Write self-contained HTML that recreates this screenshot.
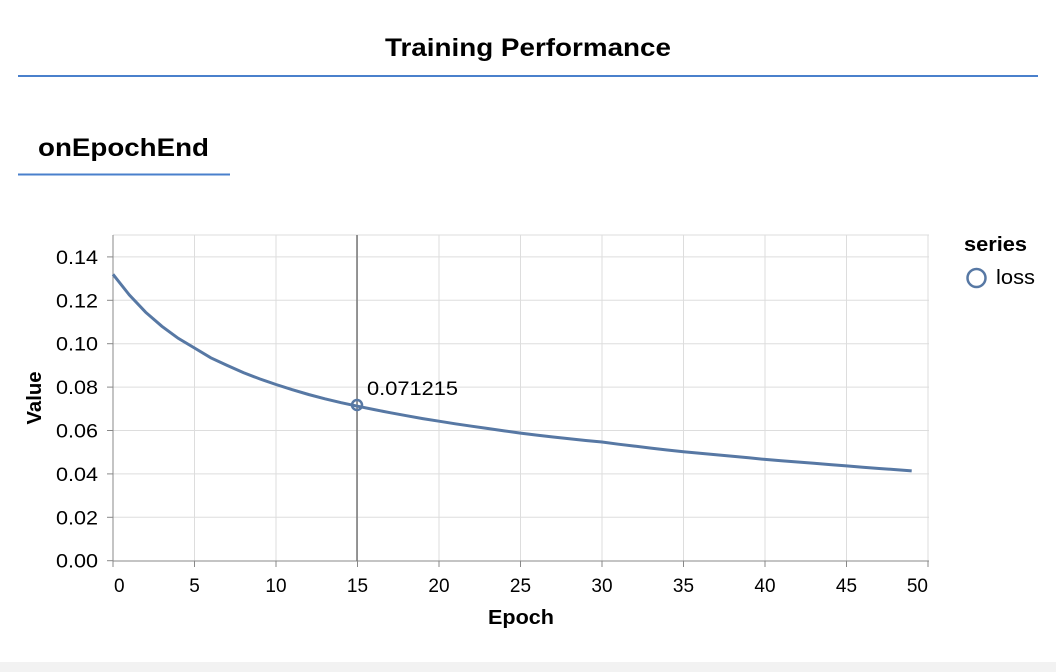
<!DOCTYPE html>
<html><head><meta charset="utf-8"><style>
html,body{margin:0;padding:0;background:#fff;width:1056px;height:672px;overflow:hidden}
svg{display:block;font-family:"Liberation Sans",Arial,sans-serif}
</style></head><body>
<svg id="s" width="1056" height="672" viewBox="0 0 1056 672" xmlns="http://www.w3.org/2000/svg">
<rect x="0" y="662" width="1056" height="10" fill="#f2f2f2"/>
<text x="385" y="56" font-size="25" font-weight="bold" fill="#000" textLength="286" lengthAdjust="spacingAndGlyphs">Training Performance</text>
<rect x="18" y="75" width="1020" height="2" fill="#4a80cc"/>
<text x="38" y="156" font-size="25" font-weight="bold" fill="#000" textLength="171" lengthAdjust="spacingAndGlyphs">onEpochEnd</text>
<rect x="18" y="173.5" width="212" height="2" fill="#4a80cc"/>
<g id="grid" stroke="#ddd" stroke-width="1"></g>
<line x1="113" y1="235" x2="113" y2="561" stroke="#888"/>
<line x1="113" y1="561" x2="929" y2="561" stroke="#888"/>
<g id="ticks" stroke="#888"></g>
<g id="labels" font-size="19" fill="#000"></g>
<text transform="translate(41,398) rotate(-90)" text-anchor="middle" font-size="20" font-weight="bold" textLength="53" lengthAdjust="spacingAndGlyphs">Value</text>
<text x="488" y="624" font-size="20" font-weight="bold" textLength="66" lengthAdjust="spacingAndGlyphs">Epoch</text>
<line x1="357" y1="235" x2="357" y2="561" stroke="#777" stroke-width="1.5"/>
<path id="curve" fill="none" stroke="#5778a4" stroke-width="3"/>
<circle cx="357" cy="405" r="5" fill="none" stroke="#5778a4" stroke-width="2.5"/>
<text x="367" y="395" font-size="19" textLength="91" lengthAdjust="spacingAndGlyphs">0.071215</text>
<text x="964" y="251" font-size="20" font-weight="bold" textLength="63" lengthAdjust="spacingAndGlyphs">series</text>
<circle cx="976.5" cy="278" r="9" fill="none" stroke="#5778a4" stroke-width="2.5"/>
<text x="996" y="284" font-size="20" textLength="39" lengthAdjust="spacingAndGlyphs">loss</text>
</svg>
<script>
var X=function(e){return 113+e*16.3},Y=function(v){return 560.7-v*2170};
var g=document.getElementById('grid'),t=document.getElementById('ticks'),l=document.getElementById('labels'),ns="http://www.w3.org/2000/svg";
function el(p,n,a,txt){var e=document.createElementNS(ns,n);for(var k in a)e.setAttribute(k,a[k]);if(txt)e.textContent=txt;p.appendChild(e);}
for(var i=1;i<=10;i++){var x=X(i*5);el(g,'line',{x1:x,y1:235,x2:x,y2:561});}
for(var j=1;j<=7;j++){var y=Y(j*0.02);el(g,'line',{x1:113,y1:y,x2:929,y2:y});}
el(g,'line',{x1:113,y1:235,x2:929,y2:235});
for(var i=0;i<=10;i++){var x=X(i*5);el(t,'line',{x1:x,y1:561,x2:x,y2:567});
 var a=i==0?'start':(i==10?'end':'middle');
 el(l,'text',{x:i==0?x+1:x,y:592,'text-anchor':a},String(i*5));}
for(var j=0;j<=7;j++){var y=Y(j*0.02);el(t,'line',{x1:107,y1:y,x2:113,y2:y});el(l,'text',{x:56,y:y+7,textLength:42,lengthAdjust:'spacingAndGlyphs'},(j*0.02).toFixed(2));}
var d=[.132,.1225,.1145,.108,.1025,.098,.0935,.09,.0867,.0838,.0812,.0788,.0766,.0746,.0728,.0712,.0697,.0682,.0668,.0655,.0643,.0631,.062,.0609,.0598,.0588,.0579,.057,.0562,.0554,.0547,.0537,.0528,.0519,.051,.0502,.0495,.0488,.0481,.0474,.0467,.0461,.0455,.0449,.0443,.0437,.0431,.0425,.042,.0414];
var p='';d.forEach(function(v,i){p+=(i?'L':'M')+X(i).toFixed(1)+','+Y(v).toFixed(1);});
document.getElementById('curve').setAttribute('d',p);
</script>
</body></html>
